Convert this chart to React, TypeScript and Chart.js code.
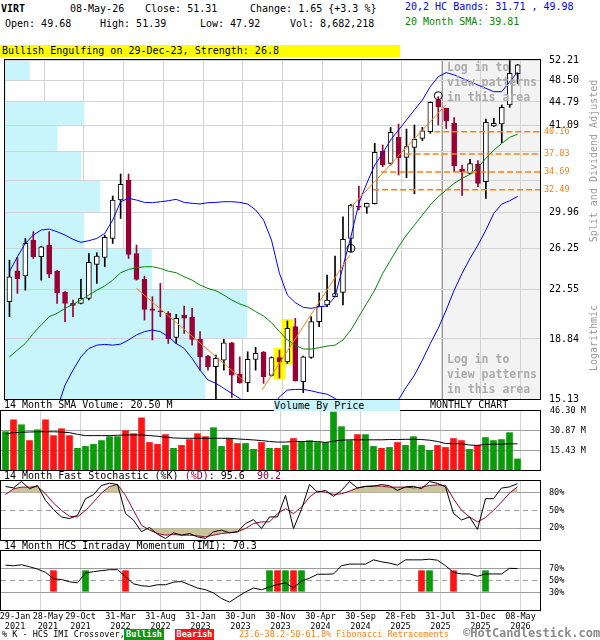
import React, { useEffect, useRef } from 'react';
import { Chart, registerables } from 'chart.js';

Chart.register(...registerables);

const MONO = '"DejaVu Sans Mono", "Liberation Mono", monospace';

// ---------- data (monthly, Jan 2021 .. May 2026) ----------
const opens = [21.59, 24.17, 23.73, 27.04, 25.44, 26.55, 24.14, 22.34, 21.46, 21.46, 21.85, 24.74, 25.37, 27.20, 31.30, 33.68, 25.75, 23.42, 21.04, 20.89, 20.69, 18.95, 20.56, 20.39, 18.81, 17.70, 17.02, 17.44, 18.58, 16.57, 16.06, 17.49, 17.96, 16.49, 17.61, 17.33, 19.71, 16.12, 17.61, 20.07, 21.33, 21.99, 22.34, 27.20, 30.63, 30.49, 30.89, 37.44, 35.79, 39.36, 36.59, 37.95, 39.22, 40.19, 45.11, 43.77, 41.42, 35.06, 34.51, 35.70, 33.47, 41.02, 41.32, 44.30, 49.68];
const highs = [25.13, 25.37, 27.20, 27.88, 26.45, 27.88, 24.20, 22.40, 21.72, 23.42, 25.75, 25.82, 27.54, 31.76, 34.42, 34.42, 26.55, 23.70, 21.99, 23.08, 20.82, 20.61, 21.25, 21.07, 19.35, 17.75, 17.77, 18.81, 18.62, 17.65, 17.98, 18.27, 18.00, 17.65, 18.09, 20.12, 20.32, 17.70, 20.44, 22.31, 23.79, 25.50, 29.45, 30.80, 32.95, 30.95, 38.50, 38.27, 40.82, 41.32, 40.57, 41.17, 40.82, 44.78, 45.66, 43.80, 42.29, 35.57, 36.32, 36.15, 42.09, 42.19, 44.30, 52.10, 51.39];
const lows = [20.44, 22.26, 22.52, 25.29, 23.36, 23.56, 21.46, 20.07, 20.44, 21.41, 21.72, 23.08, 24.53, 26.71, 29.27, 25.29, 23.36, 20.19, 18.77, 20.44, 18.53, 18.53, 19.23, 18.42, 16.81, 16.81, 15.00, 16.81, 15.21, 16.02, 15.54, 16.81, 16.02, 16.45, 16.33, 17.23, 16.15, 15.48, 17.55, 19.71, 21.20, 21.99, 21.33, 25.91, 30.19, 29.82, 30.85, 35.36, 35.57, 34.29, 33.97, 32.02, 38.89, 39.94, 41.17, 40.66, 34.72, 31.82, 34.42, 32.86, 31.49, 40.92, 38.60, 43.93, 47.92];
const closes = [23.65, 23.48, 26.71, 25.44, 26.39, 23.88, 22.31, 21.46, 21.30, 21.85, 24.92, 25.50, 27.31, 31.30, 33.15, 25.66, 23.42, 20.99, 20.91, 20.79, 18.86, 20.32, 20.32, 18.81, 17.65, 17.02, 17.55, 18.58, 16.51, 16.06, 17.49, 17.87, 16.41, 17.61, 17.33, 19.59, 16.17, 17.65, 20.07, 21.25, 21.72, 22.23, 27.11, 30.74, 30.49, 30.93, 37.26, 35.57, 40.09, 36.54, 38.04, 39.08, 40.29, 44.73, 44.04, 41.83, 35.49, 34.72, 35.75, 33.27, 41.58, 41.42, 43.93, 49.73, 51.31];

const upperBand = [24.09, 25.44, 26.71, 27.54, 28.05, 28.15, 27.88, 27.54, 27.11, 26.82, 26.98, 27.20, 27.71, 29.09, 31.11, 31.49, 31.30, 31.03, 31.00, 31.11, 31.22, 31.38, 31.03, 30.93, 30.85, 31.00, 31.03, 31.11, 31.11, 31.03, 30.85, 30.19, 29.09, 27.04, 23.94, 22.12, 21.51, 21.15, 21.07, 21.20, 21.25, 21.99, 24.53, 27.38, 30.93, 33.27, 35.57, 37.13, 38.98, 40.43, 41.94, 43.51, 45.11, 47.36, 49.13, 49.86, 49.44, 48.83, 48.23, 47.65, 47.07, 46.50, 46.50, 48.23, 49.98];
const lowerBand = [null, null, null, null, null, null, 14.6, 15.92, 16.81, 17.65, 18.20, 18.42, 18.47, 18.42, 18.49, 18.77, 19.12, 19.35, 19.47, 19.35, 19.00, 18.53, 18.20, 17.55, 16.81, 16.22, 16.02, 15.73, 15.44, 15.16, 14.8, 14.5, 14.4, 14.6, 15.25, 15.63, 15.67, 15.67, 15.59, 15.48, 15.40, 15.16, 14.9, 14.6, 14.3, 14.1, 14.0, 14.3, 14.7, 15.10, 15.82, 16.51, 17.44, 18.53, 19.59, 20.94, 22.52, 23.94, 25.29, 26.55, 28.05, 29.82, 30.85, 31.22, 31.71];
const sma20 = [17.65, 18.09, 18.53, 19.23, 19.83, 20.44, 20.69, 21.07, 21.38, 21.72, 22.12, 22.52, 22.86, 23.36, 24.00, 24.29, 24.44, 24.53, 24.53, 24.38, 24.14, 24.00, 23.65, 23.36, 22.94, 22.66, 22.47, 22.12, 21.72, 21.41, 21.20, 20.82, 20.49, 20.00, 19.35, 18.77, 18.42, 18.16, 18.16, 18.25, 18.36, 18.42, 18.77, 19.47, 20.44, 21.46, 22.52, 23.94, 25.13, 26.39, 27.54, 28.57, 29.63, 30.74, 31.68, 32.46, 33.27, 33.88, 34.38, 35.27, 36.45, 37.58, 38.50, 39.36, 39.81];

const volumes = [30.1, 39.4, 35.5, 23.1, 31.6, 39.4, 27.0, 32.4, 27.0, 17.0, 18.5, 20.1, 23.1, 26.2, 26.2, 30.9, 28.5, 40.9, 21.6, 20.1, 27.8, 17.0, 19.3, 23.9, 28.5, 26.2, 33.2, 18.5, 24.7, 20.8, 20.8, 16.2, 21.6, 17.0, 17.0, 19.3, 24.7, 22.4, 23.1, 21.6, 21.6, 45.5, 34.0, 23.1, 27.8, 27.8, 18.5, 17.0, 17.7, 21.6, 19.3, 26.2, 19.3, 15.4, 19.3, 17.7, 24.7, 23.1, 16.2, 19.3, 25.5, 23.1, 23.9, 29.3, 8.7];
const volSma = [28.3, 29.3, 29.6, 29.8, 30.0, 30.0, 30.0, 29.8, 29.3, 28.0, 27.0, 27.0, 27.0, 27.0, 27.3, 27.5, 27.5, 27.5, 27.0, 26.5, 25.7, 25.2, 24.9, 24.9, 24.9, 24.9, 24.9, 24.9, 24.9, 24.4, 24.0, 23.6, 23.1, 22.4, 21.9, 21.9, 22.4, 22.4, 22.4, 22.4, 21.6, 22.6, 23.4, 23.7, 23.7, 23.7, 23.7, 23.7, 23.9, 23.9, 24.1, 24.1, 23.9, 23.4, 22.4, 20.8, 20.6, 20.6, 19.6, 19.3, 20.1, 20.3, 20.3, 20.6, 20.5];

const stochK = [90.7, 88.4, 99.1, 86.8, 92.4, 67.1, 51.4, 39.1, 36.3, 41.9, 69.9, 76.7, 92.4, 96.3, 94.1, 44.8, 33.6, 14.0, 21.3, 9.9, 2.6, 12.2, 8.2, 11.0, 5.4, 2.6, 13.9, 16.7, 12.2, 13.9, 27.9, 34.6, 19.5, 39.1, 39.1, 75.5, 19.5, 52, 94, 81, 84, 74, 84, 99, 88, 91, 91, 94, 92, 84, 90, 91, 87, 99, 96, 90, 45, 34, 39, 18, 70, 70, 88, 90, 95.6];
const stochD = [77.2, 86.8, 89.6, 89.6, 90.7, 78.3, 62.6, 50.3, 40.2, 39.1, 50.3, 64.3, 79.5, 90.7, 94.1, 75.5, 50.3, 25.1, 16.7, 11.0, 8.2, 9.4, 8.2, 8.2, 7.1, 5.4, 8.2, 11.0, 12.2, 13.9, 19.5, 27.9, 30.7, 30.7, 44.7, 53.1, 44.7, 55.9, 72.7, 82.8, 81.1, 77.2, 78.3, 82.8, 88.4, 90.7, 91.8, 91.3, 89.6, 89.6, 89.6, 88.4, 89.6, 92.4, 93.5, 92.4, 69.9, 50.3, 39.1, 30.7, 38.0, 50.3, 64.3, 79.5, 90.2];
const imi = [76.1, 75.0, 76.7, 73.3, 69.4, 63.9, 52.8, 51.7, 47.8, 46.1, 62.8, 65.0, 66.7, 68.3, 68.3, 56.7, 44.4, 41.1, 40.0, 42.8, 42.8, 47.2, 48.3, 42.8, 37.2, 34.4, 28.9, 19.4, 13.3, 22.2, 30.6, 37.2, 34.4, 38.9, 43.3, 45.6, 37.8, 48.9, 53.9, 60.6, 60.6, 61.1, 75.0, 77.8, 77.8, 77.8, 85.0, 81.7, 79.4, 76.1, 85.0, 85.0, 85.0, 86.1, 84.4, 75.0, 63.9, 61.1, 61.1, 57.2, 61.1, 61.1, 61.1, 70.6, 70.3];

const crossMonths = [6, 10, 15, 33, 34, 35, 36, 37, 52, 53, 56, 60];
const crossKinds = ['bear', 'bull', 'bear', 'bull', 'bear', 'bull', 'bear', 'bull', 'bear', 'bull', 'bear', 'bull'];
const crossLow = 31.7;
const crossHigh = 66.7;

const priceTicks = [15.13, 18.84, 22.55, 26.25, 29.96, 33.67, 37.38, 41.09, 44.79, 48.50, 52.21];
const hiddenPriceTicks = [33.67, 37.38];
// volume by price, one value per band between consecutive price ticks (bottom to top)
const vbpVolumes = [82.4, 99.6, 60.4, 32.6, 39.2, 31.4, 21.6, 32.6, 0.4, 10.2];
const vbpFullScale = 220;

const fibLevels = [40.16, 37.03, 34.69, 32.49];
const fibStartMonth = [53.5, 49.9, 46.8, 45.8];

const trendFromMonth = [16, 31.8, 42.85];
const trendFromPrice = [22.66, 15.63, 30.35];
const trendToMonth = [29.9, 42.85, 54.94];
const trendToPrice = [16.02, 25.6, 44.3];

const pivotMonths = [43, 54];
const pivotPrices = [26.23, 45.82];

const patternMonths = [34, 35];
const patternLow = [16.25, 17.19];
const patternHigh = [18.21, 20.24];

const loginStartMonth = 54.5;

const tickMonths = [0, 4, 9, 14, 19, 24, 29, 34, 39, 44, 49, 54, 59, 64];
const dateLabels = [
  ['29-Jan', '2021'], ['28-May', '2021'], ['29-Oct', '2021'], ['31-Mar', '2022'], ['31-Aug', '2022'],
  ['31-Jan', '2023'], ['30-Jun', '2023'], ['30-Nov', '2023'], ['30-Apr', '2024'], ['30-Sep', '2024'],
  ['28-Feb', '2025'], ['31-Jul', '2025'], ['31-Dec', '2025'], ['08-May', '2026'],
];

const volTicks = [15.43, 30.87, 46.30];
const stochTicks = [20, 50, 80];
const imiTicks = [30, 50, 70];
const midLevel = 50;

// ---------- styling ----------
const X_MIN = -0.5625;
const X_MAX = X_MIN + 539 / 8;
const MAROON = '#990033';
const VGREEN = '#0a9a0a';
const VRED = '#ff1515';
const GRID = '#d3d3d3';
const HGRID = '#9c9c9c';
const ORANGE = '#ff8010';
const CYAN = '#c8f4fb';

const months = opens.map((_, i) => i);
const isUp = (i: number) => closes[i] >= opens[i];
const gridPos = (m: number) => m + 0.375;
// first two date labels are nudged right so they do not collide at the left edge
const labelPos = (m: number, k: number) => (k === 0 ? m + 1.19 : k === 1 ? m + 1.31 : m + 0.375);

function xScale(): any {
  return {
    type: 'linear',
    position: 'bottom',
    weight: 0,
    min: X_MIN,
    max: X_MAX,
    offset: false,
    afterBuildTicks: (s: any) => {
      s.ticks = tickMonths.map((m) => ({ value: gridPos(m) }));
    },
    grid: {
      offset: false,
      drawTicks: false,
      lineWidth: 1,
      color: (c: any) => (c.index === 0 ? 'rgba(0,0,0,0)' : GRID),
    },
    border: { display: false },
    ticks: { display: false },
    afterFit: (s: any) => {
      s.height = 0;
      s.paddingLeft = 0;
      s.paddingRight = 0;
    },
  };
}

function xLabelScale(): any {
  return {
    type: 'linear',
    position: 'bottom',
    weight: 1,
    min: X_MIN,
    max: X_MAX,
    offset: false,
    afterBuildTicks: (s: any) => {
      s.ticks = tickMonths.map((m, k) => ({ value: labelPos(m, k) }));
    },
    grid: { display: false, drawTicks: false },
    border: { display: false },
    ticks: {
      autoSkip: false,
      maxRotation: 0,
      minRotation: 0,
      padding: 2,
      color: '#000',
      font: { family: MONO, size: 8.5, lineHeight: 1.15 },
      callback: (_v: any, k: number) => dateLabels[k],
    },
    afterFit: (s: any) => {
      s.height = 26;
      s.paddingLeft = 0;
      s.paddingRight = 0;
    },
  };
}

function yRight(ticks: number[], extra: any): any {
  return {
    position: 'right',
    afterBuildTicks: (s: any) => {
      s.ticks = ticks.map((v) => ({ value: v }));
    },
    border: { display: false },
    afterFit: (s: any) => {
      s.width = 60;
      s.paddingTop = 0;
      s.paddingBottom = 0;
    },
    ...extra,
  };
}

const framePlugin = {
  id: 'frame',
  afterDraw(chart: any) {
    const { ctx, chartArea: a } = chart;
    ctx.save();
    ctx.strokeStyle = '#000';
    ctx.lineWidth = 1;
    ctx.strokeRect(a.left - 0.5, a.top - 0.5, a.right - a.left + 1, a.bottom - a.top + 1);
    ctx.restore();
  },
};

const mainBgPlugin = {
  id: 'mainBg',
  beforeDraw(chart: any) {
    const { ctx, chartArea: a, scales } = chart;
    const x0 = Math.round(scales.x.getPixelForValue(loginStartMonth));
    ctx.save();
    ctx.fillStyle = '#f3f3f3';
    ctx.fillRect(x0, a.top, a.right - x0, a.bottom - a.top);
    ctx.strokeStyle = '#9a9a9a';
    ctx.lineWidth = 1;
    ctx.beginPath();
    ctx.moveTo(x0 + 0.5, a.top);
    ctx.lineTo(x0 + 0.5, a.bottom);
    ctx.stroke();
    ctx.restore();
  },
  beforeDatasetsDraw(chart: any) {
    const { ctx, chartArea: a, scales } = chart;
    const xs = scales.x;
    const ys = scales.y;
    ctx.save();
    ctx.fillStyle = CYAN;
    for (let k = 0; k < vbpVolumes.length; k++) {
      const yTop = Math.floor(ys.getPixelForValue(priceTicks[k + 1])) + 1;
      const yBot = Math.floor(ys.getPixelForValue(priceTicks[k]));
      const xEnd = xs.getPixelForValue(X_MIN + (vbpVolumes[k] / vbpFullScale) * (X_MAX - X_MIN));
      ctx.fillRect(a.left, yTop, Math.max(0, xEnd - a.left), yBot - yTop);
    }
    ctx.restore();
  },
  afterDraw(chart: any) {
    const { ctx, chartArea: a, scales } = chart;
    ctx.save();
    ctx.fillStyle = ORANGE;
    ctx.font = `8.5px ${MONO}`;
    ctx.textAlign = 'left';
    ctx.textBaseline = 'middle';
    fibLevels.forEach((lv) => {
      ctx.fillText(lv.toFixed(2), a.right + 4, scales.y.getPixelForValue(lv));
    });
    ctx.restore();
  },
};

const baseOptions = (padding: any) => ({
  responsive: true,
  maintainAspectRatio: false,
  animation: false as const,
  events: [] as any[],
  layout: { padding },
  plugins: { legend: { display: false }, tooltip: { enabled: false } },
});

export default function App() {
  const mainRef = useRef<HTMLCanvasElement>(null);
  const volRef = useRef<HTMLCanvasElement>(null);
  const stochRef = useRef<HTMLCanvasElement>(null);
  const imiRef = useRef<HTMLCanvasElement>(null);

  useEffect(() => {
    const charts: Chart[] = [];

    const lineDs = (data: any[], color: string, order: number, extra: any = {}) => ({
      type: 'line',
      data,
      borderColor: color,
      borderWidth: 1,
      pointRadius: 0,
      tension: 0,
      fill: false,
      order,
      xAxisID: 'x',
      yAxisID: 'y',
      ...extra,
    });

    // ---------- main price panel ----------
    const mainDatasets: any[] = [
      {
        type: 'line',
        data: pivotMonths.map((m, k) => ({ x: m, y: pivotPrices[k] })),
        showLine: false,
        pointRadius: 4,
        pointStyle: 'circle',
        pointBorderColor: '#000',
        pointBackgroundColor: 'rgba(0,0,0,0)',
        pointBorderWidth: 1,
        order: 0,
        xAxisID: 'x',
        yAxisID: 'y',
      },
      ...trendFromMonth.map((m, k) =>
        lineDs(
          [
            { x: m, y: trendFromPrice[k] },
            { x: trendToMonth[k], y: trendToPrice[k] },
          ],
          ORANGE,
          1,
        ),
      ),
      ...fibLevels.map((lv, k) =>
        lineDs(
          [
            { x: fibStartMonth[k], y: lv },
            { x: X_MAX, y: lv },
          ],
          ORANGE,
          1,
          { borderDash: [6, 3], borderWidth: 1.5 },
        ),
      ),
      lineDs(months.map((i) => ({ x: i, y: upperBand[i] })), '#0000ff', 2),
      lineDs(months.map((i) => ({ x: i, y: lowerBand[i] })), '#0000ff', 2),
      lineDs(months.map((i) => ({ x: i, y: sma20[i] })), '#008800', 2),
      {
        type: 'bar',
        data: months.map((i) => ({ x: i, y: [Math.min(opens[i], closes[i]), Math.max(opens[i], closes[i])] })),
        backgroundColor: months.map((i) => (isUp(i) ? '#ffffff' : MAROON)),
        borderColor: months.map((i) => (isUp(i) ? '#000000' : MAROON)),
        borderWidth: 1,
        borderSkipped: false,
        barThickness: 5,
        minBarLength: 1,
        grouped: false,
        order: 3,
        xAxisID: 'x',
        yAxisID: 'y',
      },
      {
        type: 'bar',
        data: months.map((i) => ({ x: i, y: [lows[i], highs[i]] })),
        backgroundColor: months.map((i) => (isUp(i) ? '#000000' : MAROON)),
        borderWidth: 0,
        barThickness: 1,
        grouped: false,
        order: 4,
        xAxisID: 'x',
        yAxisID: 'y',
      },
      {
        type: 'bar',
        data: patternMonths.map((m, k) => ({ x: m, y: [patternLow[k], patternHigh[k]] })),
        backgroundColor: '#ffff00',
        borderWidth: 0,
        barThickness: 11,
        grouped: false,
        order: 5,
        xAxisID: 'x',
        yAxisID: 'y',
      },
    ];

    charts.push(
      new Chart(mainRef.current as HTMLCanvasElement, {
        type: 'bar',
        data: { datasets: mainDatasets },
        options: {
          ...baseOptions({ left: 1, right: 0, top: 12, bottom: 4 }),
          scales: {
            x: xScale(),
            y: yRight(priceTicks, {
              type: 'logarithmic',
              min: 15.13,
              max: 52.21,
              grid: { color: GRID, drawTicks: false, lineWidth: 1 },
              ticks: {
                autoSkip: false,
                padding: 9,
                color: '#000',
                font: { family: MONO, size: 10 },
                callback: (v: any) => (hiddenPriceTicks.includes(Number(v)) ? '' : Number(v).toFixed(2)),
              },
            }),
          } as any,
        } as any,
        plugins: [mainBgPlugin, framePlugin],
      }),
    );

    // ---------- volume panel ----------
    charts.push(
      new Chart(volRef.current as HTMLCanvasElement, {
        type: 'bar',
        data: {
          datasets: [
            {
              type: 'line',
              data: months.map((i) => ({ x: i, y: volSma[i] })),
              borderColor: '#000',
              borderWidth: 1,
              pointRadius: 0,
              order: 0,
              xAxisID: 'x',
              yAxisID: 'y',
            } as any,
            {
              type: 'bar',
              data: months.map((i) => ({ x: i, y: volumes[i] })),
              backgroundColor: months.map((i) => (isUp(i) ? VGREEN : VRED)),
              borderWidth: 0,
              barThickness: 6,
              grouped: false,
              order: 1,
              xAxisID: 'x',
              yAxisID: 'y',
            } as any,
          ],
        },
        options: {
          ...baseOptions({ left: 1, right: 0, top: 7, bottom: 4 }),
          scales: {
            x: xScale(),
            y: yRight(volTicks, {
              type: 'linear',
              min: 0,
              max: 46.3,
              grid: { color: (c: any) => (c.index === 2 ? 'rgba(0,0,0,0)' : HGRID), drawTicks: false, lineWidth: 1 },
              ticks: {
                autoSkip: false,
                padding: 10,
                color: '#000',
                font: { family: MONO, size: 8.5 },
                callback: (v: any) => Number(v).toFixed(2) + ' M',
              },
            }),
          } as any,
        } as any,
        plugins: [framePlugin],
      }),
    );

    // ---------- stochastic panel ----------
    const KHAKI = '#c9c59b';
    charts.push(
      new Chart(stochRef.current as HTMLCanvasElement, {
        type: 'line',
        data: {
          datasets: [
            {
              data: months.map((i) => ({ x: i, y: stochK[i] })),
              borderColor: '#000',
              borderWidth: 1,
              pointRadius: 0,
              fill: false,
              order: 0,
            },
            {
              data: months.map((i) => ({ x: i, y: stochD[i] })),
              borderColor: MAROON,
              borderWidth: 1,
              pointRadius: 0,
              fill: { target: { value: 80 }, above: KHAKI, below: 'rgba(0,0,0,0)' },
              order: 1,
            },
            {
              data: months.map((i) => ({ x: i, y: stochD[i] })),
              borderColor: 'rgba(0,0,0,0)',
              borderWidth: 0,
              pointRadius: 0,
              fill: { target: { value: 20 }, above: 'rgba(0,0,0,0)', below: KHAKI },
              order: 2,
            },
            {
              data: [
                { x: X_MIN, y: midLevel },
                { x: X_MAX, y: midLevel },
              ],
              borderColor: '#a0a0a0',
              borderWidth: 1,
              borderDash: [5, 4],
              pointRadius: 0,
              fill: false,
              order: 3,
            },
          ] as any,
        },
        options: {
          ...baseOptions({ left: 1, right: 0, top: 7, bottom: 4 }),
          scales: {
            x: xScale(),
            y: yRight(stochTicks, {
              type: 'linear',
              min: 0,
              max: 100,
              grid: { color: (c: any) => (c.tick && c.tick.value === midLevel ? 'rgba(0,0,0,0)' : HGRID), drawTicks: false, lineWidth: 1 },
              ticks: {
                autoSkip: false,
                padding: 9,
                color: '#000',
                font: { family: MONO, size: 8.5 },
                callback: (v: any) => v + '%',
              },
            }),
          } as any,
        } as any,
        plugins: [framePlugin],
      }),
    );

    // ---------- IMI panel ----------
    charts.push(
      new Chart(imiRef.current as HTMLCanvasElement, {
        type: 'bar',
        data: {
          datasets: [
            {
              type: 'line',
              data: months.map((i) => ({ x: i, y: imi[i] })),
              borderColor: '#000',
              borderWidth: 1,
              pointRadius: 0,
              order: 0,
              xAxisID: 'x',
              yAxisID: 'y',
            } as any,
            {
              type: 'bar',
              data: crossMonths.map((m) => ({ x: m, y: [crossLow, crossHigh] })),
              backgroundColor: crossKinds.map((k) => (k === 'bull' ? VGREEN : VRED)),
              borderWidth: 0,
              barThickness: 6,
              grouped: false,
              order: 1,
              xAxisID: 'x',
              yAxisID: 'y',
            } as any,
            {
              type: 'line',
              data: [
                { x: X_MIN, y: midLevel },
                { x: X_MAX, y: midLevel },
              ],
              borderColor: '#a0a0a0',
              borderWidth: 1,
              borderDash: [5, 4],
              pointRadius: 0,
              order: 2,
              xAxisID: 'x',
              yAxisID: 'y',
            } as any,
          ],
        },
        options: {
          ...baseOptions({ left: 1, right: 0, top: 7, bottom: 0 }),
          scales: {
            x: xScale(),
            xl: xLabelScale(),
            y: yRight(imiTicks, {
              type: 'linear',
              min: 0,
              max: 100,
              grid: { color: (c: any) => (c.tick && c.tick.value === midLevel ? 'rgba(0,0,0,0)' : HGRID), drawTicks: false, lineWidth: 1 },
              ticks: {
                autoSkip: false,
                padding: 9,
                color: '#000',
                font: { family: MONO, size: 8.5 },
                callback: (v: any) => v + '%',
              },
            }),
          } as any,
        } as any,
        plugins: [framePlugin],
      }),
    );

    return () => {
      charts.forEach((c) => c.destroy());
    };
  }, []);

  const abs = (left: number, top: number, extra: any = {}): React.CSSProperties => ({
    position: 'absolute',
    left,
    top,
    whiteSpace: 'pre',
    lineHeight: '12px',
    pointerEvents: 'none',
    ...extra,
  });

  return (
    <div
      style={{
        position: 'absolute',
        left: 0,
        top: 0,
        width: 600,
        height: 640,
        background: '#ffffff',
        overflow: 'hidden',
        fontFamily: MONO,
        fontSize: 10,
        color: '#000',
      }}
    >
      <div style={{ position: 'absolute', left: 0, top: 48, width: 600, height: 356 }}>
        <canvas ref={mainRef} />
      </div>
      <div style={{ position: 'absolute', left: 0, top: 404, width: 600, height: 70 }}>
        <canvas ref={volRef} />
      </div>
      <div style={{ position: 'absolute', left: 0, top: 474, width: 600, height: 70 }}>
        <canvas ref={stochRef} />
      </div>
      <div style={{ position: 'absolute', left: 0, top: 544, width: 600, height: 92 }}>
        <canvas ref={imiRef} />
      </div>

      {/* header */}
      <div style={abs(1, 3, { fontWeight: 'bold' })}>VIRT</div>
      <div style={abs(70, 3)}>08-May-26</div>
      <div style={abs(145, 3)}>Close: 51.31</div>
      <div style={abs(250, 3)}>Change: 1.65 {'{'}+3.3 %{'}'}</div>
      <div style={abs(5, 18)}>Open: 49.68</div>
      <div style={abs(100, 18)}>High: 51.39</div>
      <div style={abs(200, 18)}>Low: 47.92</div>
      <div style={abs(290, 18)}>Vol: 8,682,218</div>
      <div style={abs(405, 1, { color: '#0000ff' })}>20,2 HC Bands: 31.71 , 49.98</div>
      <div style={abs(405, 16, { color: '#008800' })}>20 Month SMA: 39.81</div>
      <div style={abs(0, 45, { width: 400, height: 12, background: '#ffff00', paddingLeft: 2, boxSizing: 'border-box' })}>
        Bullish Engulfing on 29-Dec-23, Strength: 26.8
      </div>

      {/* login overlay text */}
      <div style={abs(447, 60, { color: '#ababab', fontWeight: 'bold', fontSize: 11.5, lineHeight: '15px' })}>
        {'Log in to\nview patterns\nin this area'}
      </div>
      <div style={abs(447, 352, { color: '#ababab', fontWeight: 'bold', fontSize: 11.5, lineHeight: '15px' })}>
        {'Log in to\nview patterns\nin this area'}
      </div>

      {/* side labels */}
      <div style={abs(594, 161, { color: '#9a9a9a', transform: 'translate(-50%,-50%) rotate(-90deg)' })}>
        Split and Dividend Adjusted
      </div>
      <div style={abs(594, 338, { color: '#9a9a9a', transform: 'translate(-50%,-50%) rotate(-90deg)' })}>
        Logarithmic
      </div>

      {/* panel headers */}
      <div style={abs(4, 399)}>14 Month SMA Volume: 20.50 M</div>
      <div style={abs(274, 400, { width: 126, height: 11, lineHeight: '11px', background: CYAN })}>Volume By Price</div>
      <div style={abs(430, 399)}>MONTHLY CHART</div>
      <div style={abs(4, 470)}>
        14 Month Fast Stochastic (%K) <span style={{ color: MAROON }}>(%D)</span>: 95.6  <span style={{ color: MAROON }}>90.2</span>
      </div>
      <div style={abs(4, 540)}>14 Month HCS Intraday Momentum (IMI): 70.3</div>

      {/* footer */}
      <div style={abs(2, 629, { fontSize: 8.5, lineHeight: '11px' })}>% K - HCS IMI Crossover,</div>
      <div style={abs(124, 629, { fontSize: 8.5, lineHeight: '11px', width: 40, height: 11, background: VGREEN, color: '#fff', fontWeight: 'bold', textAlign: 'center' })}>Bullish</div>
      <div style={abs(175, 629, { fontSize: 8.5, lineHeight: '11px', width: 39, height: 11, background: VRED, color: '#fff', fontWeight: 'bold', textAlign: 'center' })}>Bearish</div>
      <div style={abs(239, 629, { fontSize: 8.5, lineHeight: '11px', color: ORANGE })}>23.6-38.2-50-61.8% Fibonacci Retracements</div>
      <div style={abs(463, 626, { fontSize: 12, lineHeight: '14px', color: '#8a8a8a', fontWeight: 'bold' })}>©HotCandlestick.com</div>
    </div>
  );
}
